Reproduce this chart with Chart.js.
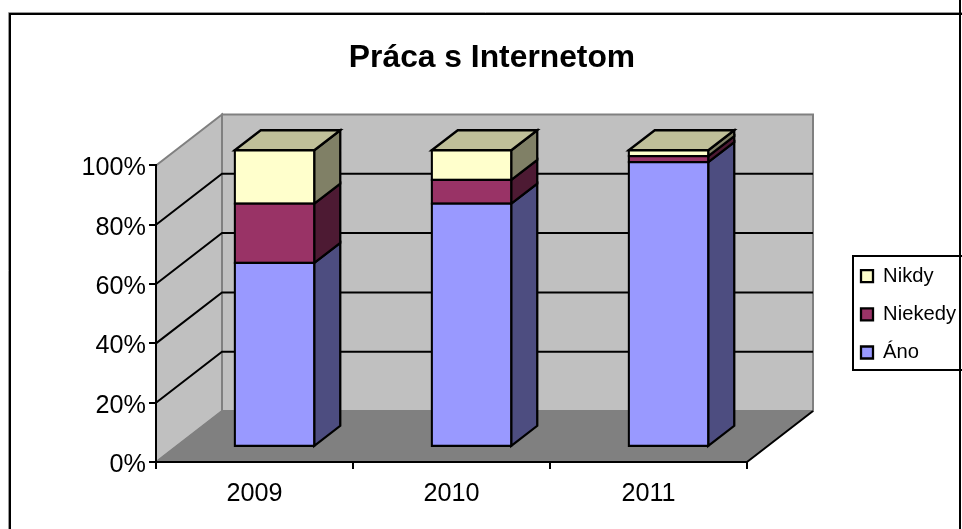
<!DOCTYPE html>
<html><head><meta charset="utf-8">
<style>html,body{margin:0;padding:0;background:#fff;overflow:hidden}canvas{display:block}</style>
<script src="https://cdn.jsdelivr.net/npm/chart.js@4"></script></head>
<body><canvas id="c" width="962" height="529"></canvas>
<script>
const categories = ['2009','2010','2011'];
const titleText = 'Práca s Internetom';
const ano = [62,82,96];
const niekedy = [20,8,2];
const nikdy = [18,10,2];
const FONT = '"Liberation Sans", Arial, sans-serif';
const DEPTH_WALL = {x:66, y:-51};
const DEPTH_BAR_OFFSET = {x:20, y:-15.2};
const DEPTH_BAR = {x:26, y:-20};
const sideCols = ['#4d4d80','#4d1a33','#808066'];
const topCol = '#bfbf99';
const LINE = 2.3;

function poly(ctx, pts, fill, stroke, lw){
  ctx.beginPath();
  pts.forEach((p,i)=> i?ctx.lineTo(p[0],p[1]):ctx.moveTo(p[0],p[1]));
  ctx.closePath();
  if(fill){ctx.fillStyle=fill;ctx.fill();}
  if(stroke){ctx.strokeStyle=stroke;ctx.lineWidth=lw;ctx.lineJoin='miter';ctx.stroke();}
}
const scene = {
  id:'scene',
  afterLayout(chart){
    const tb = chart.titleBlock;
    tb.left = 492 - tb.width/2; tb.right = tb.left + tb.width;
    const l = chart.legend;
    l.left = 843; l.top = 248;
    l.right = l.left + l.width; l.bottom = l.top + l.height;
  },
  beforeDraw(chart){
    const {ctx, scales:{x,y}} = chart;
    const L = x.left, R = x.right, y0 = y.getPixelForValue(0), y1 = y.getPixelForValue(100);
    const dx = DEPTH_WALL.x, dy = DEPTH_WALL.y;
    ctx.save();
    ctx.fillStyle='#fff'; ctx.fillRect(0,0,chart.width,chart.height);
    // frame: soft gray edge then black line
    ctx.strokeStyle='#999'; ctx.lineWidth=1;
    ctx.beginPath(); ctx.moveTo(8.5,529); ctx.lineTo(8.5,12.5); ctx.lineTo(962,12.5); ctx.stroke();
    ctx.strokeStyle='#000'; ctx.lineWidth=2;
    ctx.beginPath(); ctx.moveTo(10,529); ctx.lineTo(10,14); ctx.lineTo(962,14); ctx.moveTo(960,0); ctx.lineTo(960,529); ctx.stroke();
    // walls
    poly(ctx,[[L,y1],[L+dx,y1+dy],[L+dx,y0+dy],[L,y0]],'#c0c0c0','#808080',2);
    poly(ctx,[[L+dx,y1+dy],[R+dx,y1+dy],[R+dx,y0+dy],[L+dx,y0+dy]],'#c0c0c0','#808080',2);
    poly(ctx,[[L,y0],[L+dx,y0+dy],[R+dx,y0+dy],[R,y0]],'#808080','#808080',1);
    ctx.beginPath(); ctx.moveTo(R,y0); ctx.lineTo(R+dx,y0+dy); ctx.strokeStyle='#000'; ctx.lineWidth=2; ctx.stroke();
    // gridlines
    ctx.strokeStyle='#000'; ctx.lineWidth=2;
    y.ticks.forEach(t=>{
      if(t.value<=0||t.value>=100) return;
      const p=y.getPixelForValue(t.value);
      ctx.beginPath(); ctx.moveTo(L,p); ctx.lineTo(L+dx,p+dy); ctx.lineTo(R+dx,p+dy); ctx.stroke();
    });
    // legend frame
    ctx.fillStyle='#fff'; ctx.fillRect(853,256,106,114);
    ctx.strokeStyle='#000'; ctx.lineWidth=2;
    ctx.strokeRect(853,256,120,114);
    ctx.restore();
  },
  beforeDatasetsDraw(chart){
    const ctx = chart.ctx;
    const ox = DEPTH_BAR_OFFSET.x, oy = DEPTH_BAR_OFFSET.y, bx = DEPTH_BAR.x, by = DEPTH_BAR.y;
    ctx.save();
    chart.data.datasets.forEach((ds,di)=>{
      const meta = chart.getDatasetMeta(di);
      meta.data.forEach(el=>{
        const r = el.x + el.width/2 + ox, t = el.y + oy, b = el.base + oy;
        poly(ctx,[[r,b],[r+bx,b+by],[r+bx,t+by],[r,t]],sideCols[di],'#000',LINE);
        if(di===chart.data.datasets.length-1){
          const l = el.x - el.width/2 + ox;
          poly(ctx,[[l,t],[l+bx,t+by],[r+bx,t+by],[r,t]],topCol,'#000',LINE);
        }
      });
    });
    ctx.restore();
    ctx.save();
    ctx.translate(ox,oy);
  },
  afterDatasetsDraw(chart){ chart.ctx.restore(); }
};

const mk = (label,data,color)=>({label,data,backgroundColor:color,borderColor:'#000',
  borderWidth:LINE,inflateAmount:LINE/2,
  borderSkipped:false,barPercentage:0.4036,categoryPercentage:1,clip:false});

new Chart(document.getElementById('c'),{
  type:'bar',
  data:{labels:categories,datasets:[mk('Áno',ano,'#9999ff'),mk('Niekedy',niekedy,'#993366'),mk('Nikdy',nikdy,'#ffffcc')]},
  plugins:[scene],
  options:{
    responsive:false,animation:false,events:[],
    layout:{autoPadding:false,padding:{left:0,right:215,top:0,bottom:0}},
    plugins:{
      tooltip:{enabled:false},
      title:{display:true,text:titleText,color:'#000',font:{family:FONT,size:31.8,weight:'bold',lineHeight:1.2},
        padding:{top:39,bottom:88.3}},
      legend:{display:true,position:'chartArea',align:'start',reverse:true,
        labels:{boxWidth:12,boxHeight:12,padding:18,color:'#000',font:{family:FONT,size:20.2}}}
    },
    scales:{
      x:{stacked:true,offset:true,
        afterFit(s){s.height=67;},
        grid:{offset:true,drawOnChartArea:false,color:'#000',tickColor:'#000',tickLength:7,lineWidth:2},
        border:{color:'#000',width:2},
        ticks:{color:'#000',padding:10,maxRotation:0,font:{family:FONT,size:25.2}}},
      y:{stacked:true,min:0,max:100,
        afterFit(s){s.width=156;},
        grid:{drawOnChartArea:false,color:'#000',tickColor:'#000',tickLength:7,lineWidth:2},
        border:{color:'#000',width:2},
        ticks:{stepSize:20,color:'#000',padding:3,labelOffset:3,font:{family:FONT,size:25.2},callback:v=>v+'%'}}
    }
  }
});
</script></body></html>
